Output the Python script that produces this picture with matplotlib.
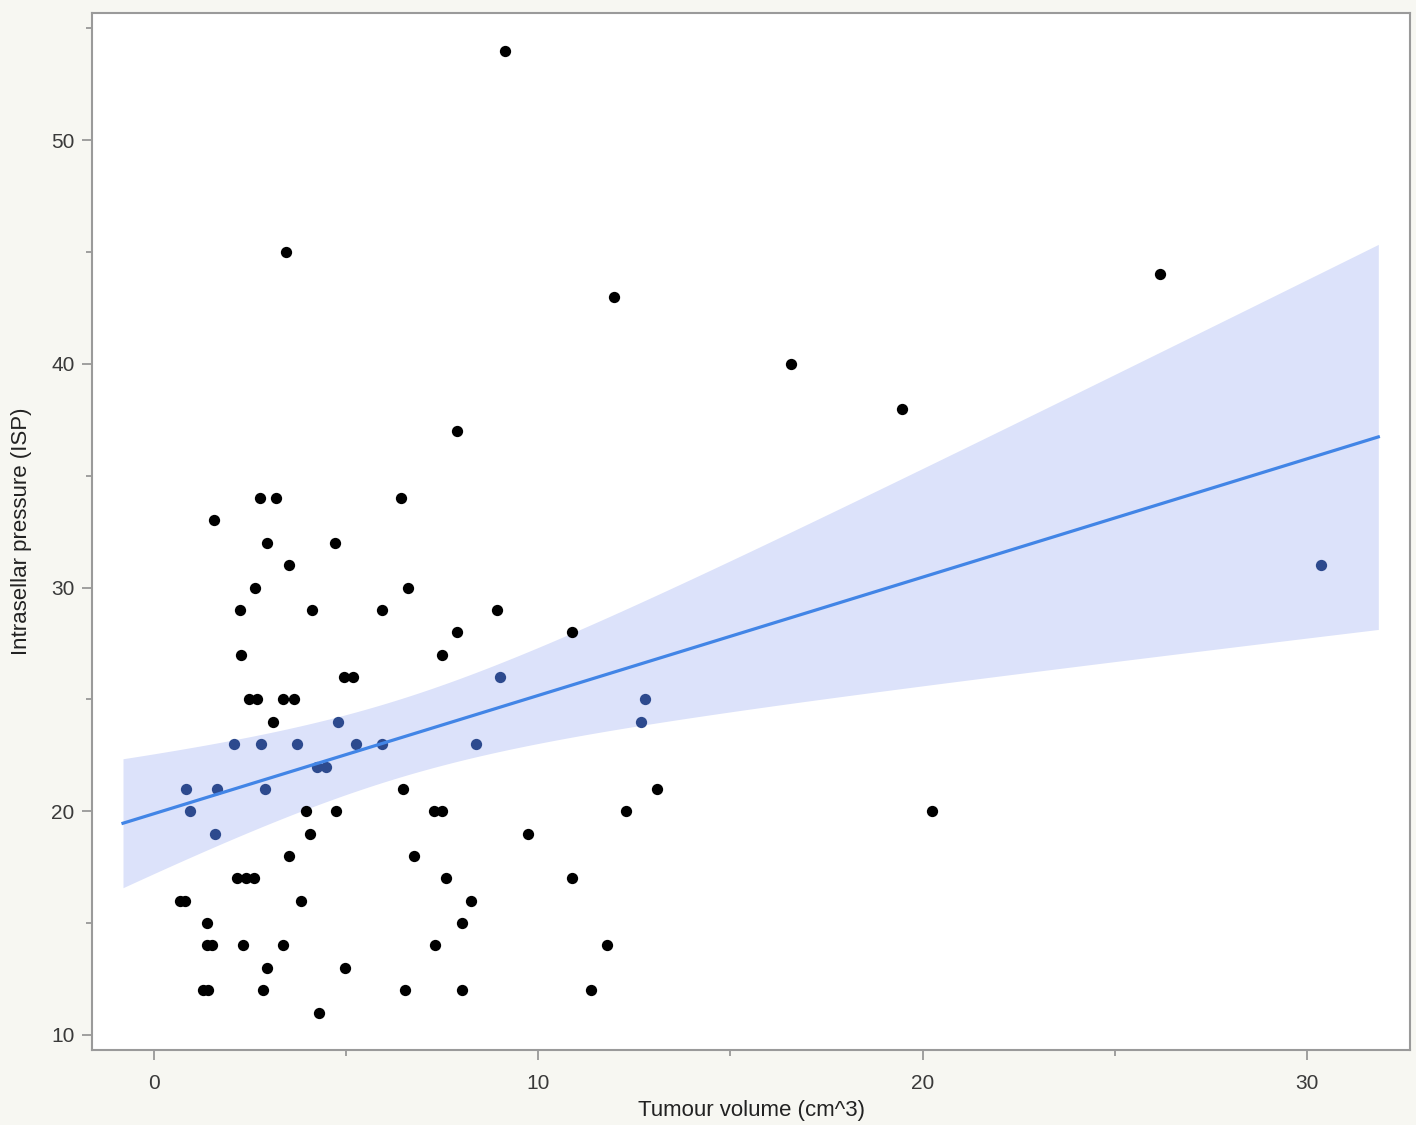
import numpy as np
import matplotlib
matplotlib.use("Agg")
import matplotlib.pyplot as plt
from matplotlib.ticker import MultipleLocator

# tumour volume (cm^3) and intrasellar pressure
volume = [9.13, 3.43, 26.18, 11.97, 16.58, 19.46, 7.88,
          2.76, 3.17, 6.43, 1.55, 2.95, 4.72, 3.51, 2.64, 6.62,
          2.23, 4.12, 5.94, 8.93, 7.89, 10.88, 2.27, 7.50,
          4.95, 5.19, 9.00,
          2.47, 2.68, 3.36, 3.65, 12.78,
          3.10, 4.80, 12.67,
          2.08, 2.79, 3.71, 5.27, 5.93, 8.38,
          4.23, 4.48,
          0.83, 1.63, 2.90, 6.49, 13.08,
          0.95, 3.96, 4.74, 7.29, 7.49, 12.29, 20.24,
          1.58, 4.05, 9.72,
          3.52, 6.77,
          2.17, 2.39, 2.61, 7.59, 10.88,
          0.68, 0.81, 3.83, 8.26,
          1.37, 8.01,
          1.38, 1.51, 2.32, 3.35, 7.31, 11.79,
          2.95, 4.97,
          1.28, 1.41, 2.84, 6.54, 8.01, 11.38,
          4.30, 30.37]
isp = [54, 45, 44, 43, 40, 38, 37,
       34, 34, 34, 33, 32, 32, 31, 30, 30,
       29, 29, 29, 29, 28, 28, 27, 27,
       26, 26, 26,
       25, 25, 25, 25, 25,
       24, 24, 24,
       23, 23, 23, 23, 23, 23,
       22, 22,
       21, 21, 21, 21, 21,
       20, 20, 20, 20, 20, 20, 20,
       19, 19, 19,
       18, 18,
       17, 17, 17, 17, 17,
       16, 16, 16, 16,
       15, 15,
       14, 14, 14, 14, 14, 14,
       13, 13,
       12, 12, 12, 12, 12, 12,
       11, 31]

x = np.array(volume)
y = np.array(isp)

# linear fit with 95% confidence band of the mean
n = len(x)
slope, intercept = np.polyfit(x, y, 1)
resid = y - (intercept + slope * x)
s = np.sqrt(np.sum(resid ** 2) / (n - 2))
xm = x.mean()
sxx = np.sum((x - xm) ** 2)
span = x.max() - x.min()


def half_width(xx):
    return 1.99 * s * np.sqrt(1.0 / n + (xx - xm) ** 2 / sxx)


xf = np.linspace(x.min() - 0.05 * span, x.max() + 0.05 * span, 200)
yf = intercept + slope * xf
lo, hi = yf - half_width(xf), yf + half_width(xf)

# points that sit under the band look blue in the original
yp = intercept + slope * x
inside = np.abs(y - yp) <= half_width(x)

plt.rcParams['font.family'] = ['Liberation Sans', 'DejaVu Sans']

fig = plt.figure(figsize=(14.16, 11.25), dpi=100, facecolor='#f7f7f2')
ax = fig.add_axes([0.065, 0.0667, 0.9308, 0.9217])
ax.set_facecolor('white')

ax.fill_between(xf, lo, hi, color='#dce2fa', lw=0, zorder=1)
ax.scatter(x[~inside], y[~inside], s=66, color='black', lw=0, zorder=2)
ax.scatter(x[inside], y[inside], s=66, color='#2d4a8e', lw=0, zorder=2)
ax.plot(xf, yf, color='#4285e6', lw=2.3, zorder=3)

ax.set_xlim(-1.61, 32.68)
ax.set_ylim(9.33, 55.68)
ax.xaxis.set_major_locator(MultipleLocator(10))
ax.xaxis.set_minor_locator(MultipleLocator(5))
ax.yaxis.set_major_locator(MultipleLocator(10))
ax.yaxis.set_minor_locator(MultipleLocator(5))
ax.tick_params(which='major', length=7.5, width=1.2, color='#909090',
               labelsize=15, labelcolor='#3a3a3a')
ax.tick_params(which='minor', length=4, width=1.2, color='#909090')
ax.tick_params(axis='x', which='major', pad=10)
ax.tick_params(axis='y', which='major', pad=5)
for sp in ax.spines.values():
    sp.set_color('#9a9a9a')
    sp.set_linewidth(1.5)

ax.set_xlabel('Tumour volume (cm^3)', fontsize=16, color='#222222', labelpad=5)
ax.set_ylabel('Intrasellar pressure (ISP)', fontsize=16, color='#222222', labelpad=14)

fig.savefig('out.png', dpi=100, facecolor=fig.get_facecolor())
